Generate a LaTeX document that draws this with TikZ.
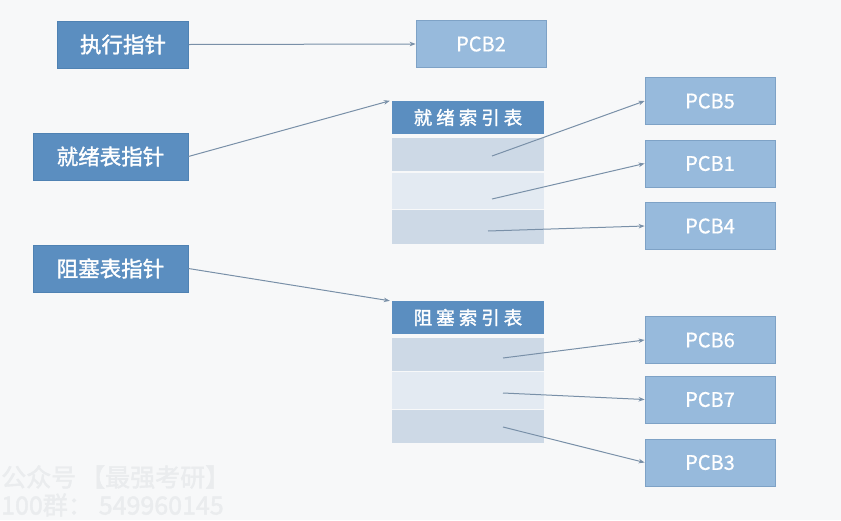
\documentclass[tikz,border=0pt]{standalone}
\usepackage{fontspec}
\setmainfont{Noto Sans CJK SC}
\newfontfamily\cjkb{Noto Sans CJK SC}[FakeBold=1.6]
\newfontfamily\pcbfont{Noto Sans CJK SC}[FakeBold=0.6]
\usetikzlibrary{arrows.meta}
\definecolor{bgc}{HTML}{F7F8F9}
\definecolor{darkbox}{HTML}{5B8EC0}
\definecolor{darkedge}{HTML}{4F82B3}
\definecolor{lightbox}{HTML}{97BADC}
\definecolor{lightedge}{HTML}{7EA2C6}
\definecolor{rowa}{HTML}{CDD9E6}
\definecolor{rowb}{HTML}{E3EAF2}
\definecolor{arrowc}{HTML}{7990A8}
\definecolor{wmark}{HTML}{EAECEE}
\tikzset{
  ptrbox/.style={draw=darkedge, line width=0.8pt, fill=darkbox, text=white, minimum height=47pt, inner sep=0pt, font=\cjkb\fontsize{21.5}{23}\selectfont},
  pcbbox/.style={draw=lightedge, line width=0.8pt, fill=lightbox, text=white, minimum width=130pt, minimum height=47pt, inner sep=0pt, font=\pcbfont\fontsize{20}{22}\selectfont},
  headbox/.style={fill=darkbox, text=white, minimum width=152pt, minimum height=33pt, inner sep=0pt, font=\cjkb\fontsize{18.5}{20}\selectfont},
  rowbox/.style={minimum width=152pt, inner sep=0pt},
  link/.style={draw=arrowc, line width=1pt, -{Stealth[length=6pt,width=4.5pt]}},
  wm/.style={text=wmark, font=\cjkb\fontsize{25}{27}\selectfont, anchor=west, inner sep=0pt}
}
\begin{document}
\begin{tikzpicture}[x=1pt, y=-1pt]
\fill[bgc] (0,0) rectangle (841,520);
\useasboundingbox (0,0) rectangle (841,520);

% pointer boxes
\node[ptrbox, minimum width=131pt] (ex) at (123,44.5) {执行指针};
\node[ptrbox, minimum width=155pt] (rp) at (110.5,156.5) {就绪表指针};
\node[ptrbox, minimum width=155pt] (bp) at (110.5,268.5) {阻塞表指针};

% PCB2
\node[pcbbox] (pcb2) at (481,44) {PCB2};

% ready index table
\node[headbox] (rh) at (468,117.5) {就\hspace{4pt}绪\hspace{4pt}索\hspace{4pt}引\hspace{4pt}表};
\node[rowbox, fill=rowa, minimum height=33pt] (r1) at (468,154.5) {};
\node[rowbox, fill=rowb, minimum height=36pt] (r2) at (468,190.5) {};
\node[rowbox, fill=rowa, minimum height=34pt] (r3) at (468,226.5) {};

% blocked index table
\node[headbox] (bh) at (468,317.5) {阻\hspace{4pt}塞\hspace{4pt}索\hspace{4pt}引\hspace{4pt}表};
\node[rowbox, fill=rowa, minimum height=33pt] (b1) at (468,354.5) {};
\node[rowbox, fill=rowb, minimum height=37pt] (b2) at (468,390.5) {};
\node[rowbox, fill=rowa, minimum height=33pt] (b3) at (468,426.5) {};

% PCB boxes
\node[pcbbox] (pcb5) at (710,101) {PCB5};
\node[pcbbox] (pcb1) at (710,163.5) {PCB1};
\node[pcbbox] (pcb4) at (710,226) {PCB4};
\node[pcbbox] (pcb6) at (710,340) {PCB6};
\node[pcbbox] (pcb7) at (710,399.5) {PCB7};
\node[pcbbox] (pcb3) at (710,462.5) {PCB3};

% connector end points
\coordinate (rt) at ([xshift=-2pt]rh.north west);
\coordinate (bt) at ([xshift=-2pt]bh.north west);
\coordinate (s1) at ([xshift=24pt, yshift=-1.5pt]r1.center);
\coordinate (s2) at ([xshift=24pt, yshift=-8.5pt]r2.center);
\coordinate (s3) at ([xshift=20pt, yshift=-4.5pt]r3.center);
\coordinate (t1) at ([xshift=35pt, yshift=-3.5pt]b1.center);
\coordinate (t2) at ([xshift=35pt, yshift=-2.5pt]b2.center);
\coordinate (t3) at ([xshift=35pt, yshift=-0.5pt]b3.center);

% connectors
\draw[link] (ex.east) -- (pcb2.west);
\draw[link] (rp.east) -- (rt);
\draw[link] (bp.east) -- (bt);
\draw[link] (s1) -- (pcb5.west);
\draw[link] (s2) -- (pcb1.west);
\draw[link] (s3) -- (pcb4.west);
\draw[link] (t1) -- (pcb6.west);
\draw[link] (t2) -- (pcb7.west);
\draw[link] (t3) -- (pcb3.west);

% watermark
\node[wm] (w1) at (1,477) {公众号\hspace{4pt}【最强考研】};
\node[wm] (w2) at (1,505) {100群：\hspace{6pt}549960145};
\end{tikzpicture}
\end{document}
